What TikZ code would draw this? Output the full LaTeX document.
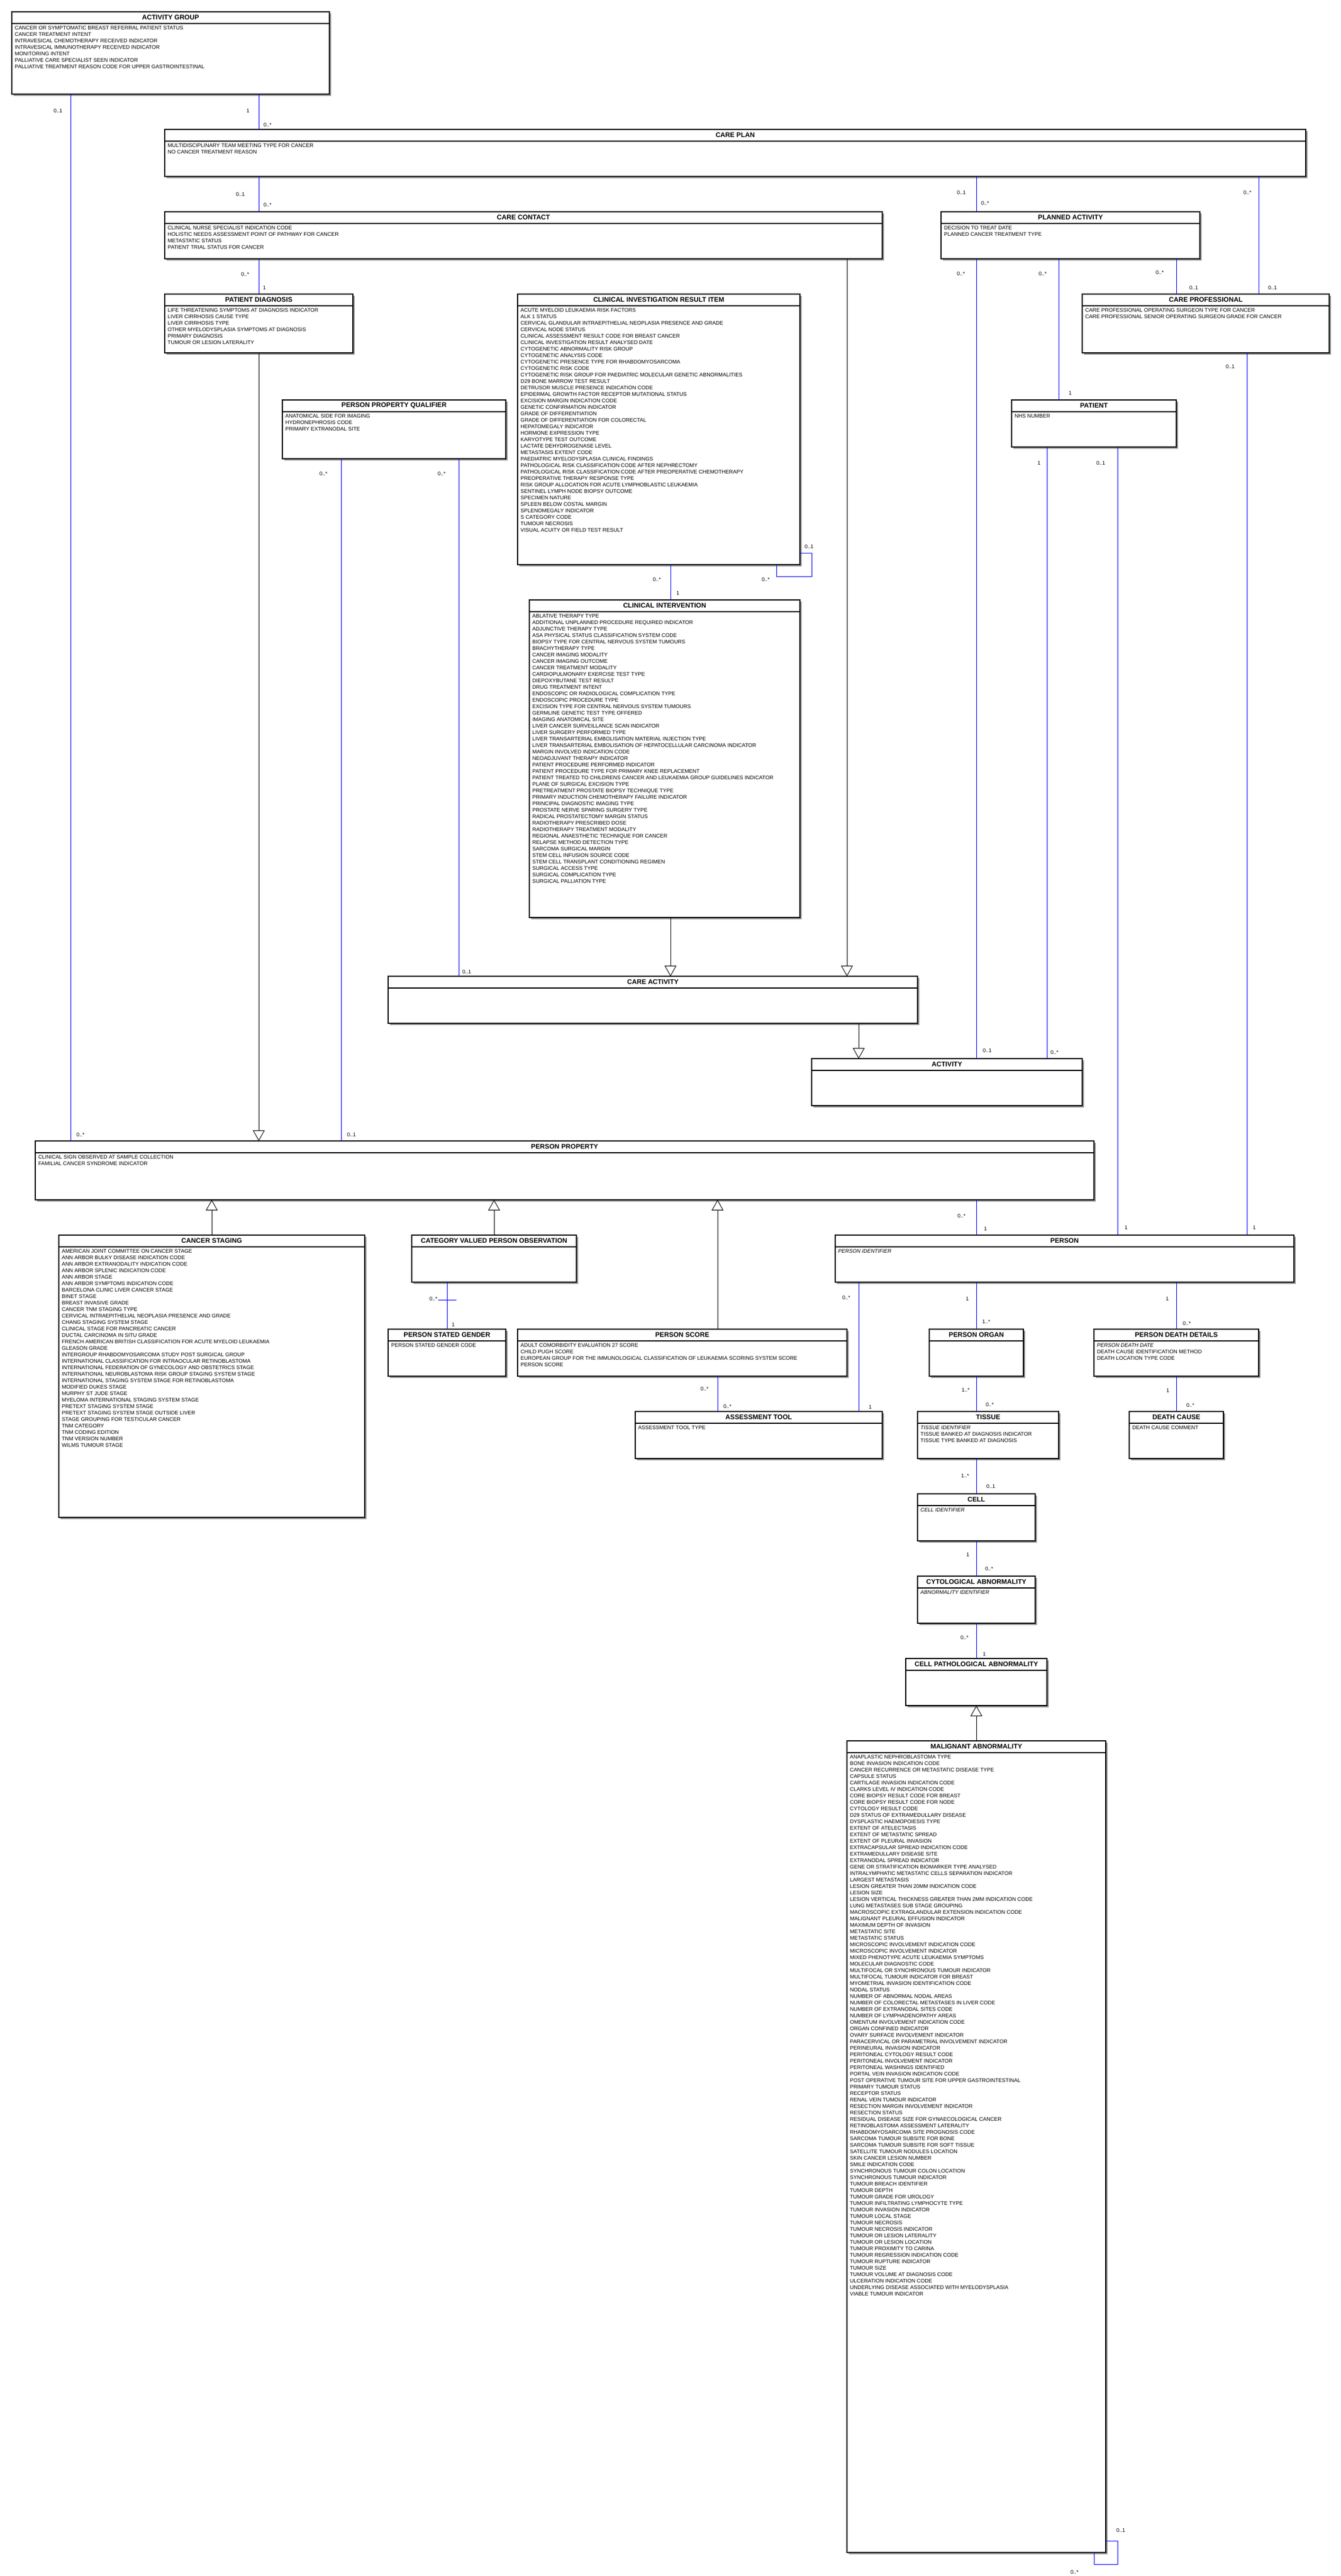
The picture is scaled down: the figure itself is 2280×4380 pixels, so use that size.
\documentclass[tikz,border=0pt]{standalone}
\usepackage{fontspec}
\setmainfont{Liberation Sans}
\usetikzlibrary{arrows.meta}
\tikzset{
  classbox/.style={draw=black, line width=1.2pt, fill=white, inner sep=0pt, outer sep=0pt},
  shadowbox/.style={fill=black!42, draw=none},
  hdrline/.style={draw=black, line width=1.2pt},
  ttl/.style={font=\bfseries\fontsize{11.4}{13}\selectfont, inner sep=0pt},
  items/.style={font=\fontsize{9}{11}\selectfont, inner sep=0pt, anchor=north west},
  lbl/.style={font=\fontsize{9}{11}\selectfont, inner sep=0pt, anchor=west},
  assoc/.style={draw=blue, line width=0.9pt},
  gen/.style={draw=black, line width=0.9pt, -{Triangle[fill=white, length=18pt, width=20pt, line width=0.9pt]}}
}
\newcommand{\umlclass}[7]{%
  \fill[shadowbox] ({#2+3},{#3+3}) rectangle ({#4+3},{#5+3});
  \node[classbox, anchor=north west, minimum width={(#4)-(#2)}, minimum height={(#5)-(#3)}] (#1) at (#2,#3) {};
  \draw[hdrline] (#2,{#3+20}) -- (#4,{#3+20});
  \node[ttl] (#1t) at ({(#2+#4)/2},{#3+10}) {#6};
  \node[items] (#1i) at ({#2+5},{#3+22.6}) {\begin{tabular}{@{}l@{}}#7\end{tabular}};
}
\newcommand{\mlab}[4]{\node[lbl] (#1) at (#2,#3) {#4};}
\newcommand{\vconn}[4][assoc]{\draw[#1] (#2,0 |- #3.south) -- (#2,0 |- #4.north);}
\newcommand{\vgenup}[3]{\draw[gen] (#1,0 |- #2.north) -- (#1,0 |- #3.south);}
\begin{document}
\begin{tikzpicture}[x=1pt,y=-1pt]
\fill[white] (0,0) rectangle (2280,4380);
\useasboundingbox (0,0) rectangle (2280,4380);

% ---------------- classes ----------------
\umlclass{ag}{20}{20}{560}{160}{ACTIVITY GROUP}{CANCER OR SYMPTOMATIC BREAST REFERRAL PATIENT STATUS\\CANCER TREATMENT INTENT\\INTRAVESICAL CHEMOTHERAPY RECEIVED INDICATOR\\INTRAVESICAL IMMUNOTHERAPY RECEIVED INDICATOR\\MONITORING INTENT\\PALLIATIVE CARE SPECIALIST SEEN INDICATOR\\PALLIATIVE TREATMENT REASON CODE FOR UPPER GASTROINTESTINAL}

\umlclass{cp}{280}{220}{2220}{300}{CARE PLAN}{MULTIDISCIPLINARY TEAM MEETING TYPE FOR CANCER\\NO CANCER TREATMENT REASON}

\umlclass{cc}{280}{360}{1500}{440}{CARE CONTACT}{CLINICAL NURSE SPECIALIST INDICATION CODE\\HOLISTIC NEEDS ASSESSMENT POINT OF PATHWAY FOR CANCER\\METASTATIC STATUS\\PATIENT TRIAL STATUS FOR CANCER}

\umlclass{pa}{1600}{360}{2040}{440}{PLANNED ACTIVITY}{DECISION TO TREAT DATE\\PLANNED CANCER TREATMENT TYPE}

\umlclass{cpr}{1840}{500}{2260}{600}{CARE PROFESSIONAL}{CARE PROFESSIONAL OPERATING SURGEON TYPE FOR CANCER\\CARE PROFESSIONAL SENIOR OPERATING SURGEON GRADE FOR CANCER}

\umlclass{pat}{1720}{680}{2000}{760}{PATIENT}{NHS NUMBER}

\umlclass{pd}{280}{500}{600}{600}{PATIENT DIAGNOSIS}{LIFE THREATENING SYMPTOMS AT DIAGNOSIS INDICATOR\\LIVER CIRRHOSIS CAUSE TYPE\\LIVER CIRRHOSIS TYPE\\OTHER MYELODYSPLASIA SYMPTOMS AT DIAGNOSIS\\PRIMARY DIAGNOSIS\\TUMOUR OR LESION LATERALITY}

\umlclass{ppq}{480}{680}{860}{780}{PERSON PROPERTY QUALIFIER}{ANATOMICAL SIDE FOR IMAGING\\HYDRONEPHROSIS CODE\\PRIMARY EXTRANODAL SITE}

\umlclass{ciri}{880}{500}{1360}{960}{CLINICAL INVESTIGATION RESULT ITEM}{ACUTE MYELOID LEUKAEMIA RISK FACTORS\\ALK 1 STATUS\\CERVICAL GLANDULAR INTRAEPITHELIAL NEOPLASIA PRESENCE AND GRADE\\CERVICAL NODE STATUS\\CLINICAL ASSESSMENT RESULT CODE FOR BREAST CANCER\\CLINICAL INVESTIGATION RESULT ANALYSED DATE\\CYTOGENETIC ABNORMALITY RISK GROUP\\CYTOGENETIC ANALYSIS CODE\\CYTOGENETIC PRESENCE TYPE FOR RHABDOMYOSARCOMA\\CYTOGENETIC RISK CODE\\CYTOGENETIC RISK GROUP FOR PAEDIATRIC MOLECULAR GENETIC ABNORMALITIES\\D29 BONE MARROW TEST RESULT\\DETRUSOR MUSCLE PRESENCE INDICATION CODE\\EPIDERMAL GROWTH FACTOR RECEPTOR MUTATIONAL STATUS\\EXCISION MARGIN INDICATION CODE\\GENETIC CONFIRMATION INDICATOR\\GRADE OF DIFFERENTIATION\\GRADE OF DIFFERENTIATION FOR COLORECTAL\\HEPATOMEGALY INDICATOR\\HORMONE EXPRESSION TYPE\\KARYOTYPE TEST OUTCOME\\LACTATE DEHYDROGENASE LEVEL\\METASTASIS EXTENT CODE\\PAEDIATRIC MYELODYSPLASIA CLINICAL FINDINGS\\PATHOLOGICAL RISK CLASSIFICATION CODE AFTER NEPHRECTOMY\\PATHOLOGICAL RISK CLASSIFICATION CODE AFTER PREOPERATIVE CHEMOTHERAPY\\PREOPERATIVE THERAPY RESPONSE TYPE\\RISK GROUP ALLOCATION FOR ACUTE LYMPHOBLASTIC LEUKAEMIA\\SENTINEL LYMPH NODE BIOPSY OUTCOME\\SPECIMEN NATURE\\SPLEEN BELOW COSTAL MARGIN\\SPLENOMEGALY INDICATOR\\S CATEGORY CODE\\TUMOUR NECROSIS\\VISUAL ACUITY OR FIELD TEST RESULT}

\umlclass{ci}{900}{1020}{1360}{1560}{CLINICAL INTERVENTION}{ABLATIVE THERAPY TYPE\\ADDITIONAL UNPLANNED PROCEDURE REQUIRED INDICATOR\\ADJUNCTIVE THERAPY TYPE\\ASA PHYSICAL STATUS CLASSIFICATION SYSTEM CODE\\BIOPSY TYPE FOR CENTRAL NERVOUS SYSTEM TUMOURS\\BRACHYTHERAPY TYPE\\CANCER IMAGING MODALITY\\CANCER IMAGING OUTCOME\\CANCER TREATMENT MODALITY\\CARDIOPULMONARY EXERCISE TEST TYPE\\DIEPOXYBUTANE TEST RESULT\\DRUG TREATMENT INTENT\\ENDOSCOPIC OR RADIOLOGICAL COMPLICATION TYPE\\ENDOSCOPIC PROCEDURE TYPE\\EXCISION TYPE FOR CENTRAL NERVOUS SYSTEM TUMOURS\\GERMLINE GENETIC TEST TYPE OFFERED\\IMAGING ANATOMICAL SITE\\LIVER CANCER SURVEILLANCE SCAN INDICATOR\\LIVER SURGERY PERFORMED TYPE\\LIVER TRANSARTERIAL EMBOLISATION MATERIAL INJECTION TYPE\\LIVER TRANSARTERIAL EMBOLISATION OF HEPATOCELLULAR CARCINOMA INDICATOR\\MARGIN INVOLVED INDICATION CODE\\NEOADJUVANT THERAPY INDICATOR\\PATIENT PROCEDURE PERFORMED INDICATOR\\PATIENT PROCEDURE TYPE FOR PRIMARY KNEE REPLACEMENT\\PATIENT TREATED TO CHILDRENS CANCER AND LEUKAEMIA GROUP GUIDELINES INDICATOR\\PLANE OF SURGICAL EXCISION TYPE\\PRETREATMENT PROSTATE BIOPSY TECHNIQUE TYPE\\PRIMARY INDUCTION CHEMOTHERAPY FAILURE INDICATOR\\PRINCIPAL DIAGNOSTIC IMAGING TYPE\\PROSTATE NERVE SPARING SURGERY TYPE\\RADICAL PROSTATECTOMY MARGIN STATUS\\RADIOTHERAPY PRESCRIBED DOSE\\RADIOTHERAPY TREATMENT MODALITY\\REGIONAL ANAESTHETIC TECHNIQUE FOR CANCER\\RELAPSE METHOD DETECTION TYPE\\SARCOMA SURGICAL MARGIN\\STEM CELL INFUSION SOURCE CODE\\STEM CELL TRANSPLANT CONDITIONING REGIMEN\\SURGICAL ACCESS TYPE\\SURGICAL COMPLICATION TYPE\\SURGICAL PALLIATION TYPE}

\umlclass{ca}{660}{1660}{1560}{1740}{CARE ACTIVITY}{}

\umlclass{act}{1380}{1800}{1840}{1880}{ACTIVITY}{}

\umlclass{pp}{60}{1940}{1860}{2040}{PERSON PROPERTY}{CLINICAL SIGN OBSERVED AT SAMPLE COLLECTION\\FAMILIAL CANCER SYNDROME INDICATOR}

\umlclass{cs}{100}{2100}{620}{2580}{CANCER STAGING}{AMERICAN JOINT COMMITTEE ON CANCER STAGE\\ANN ARBOR BULKY DISEASE INDICATION CODE\\ANN ARBOR EXTRANODALITY INDICATION CODE\\ANN ARBOR SPLENIC INDICATION CODE\\ANN ARBOR STAGE\\ANN ARBOR SYMPTOMS INDICATION CODE\\BARCELONA CLINIC LIVER CANCER STAGE\\BINET STAGE\\BREAST INVASIVE GRADE\\CANCER TNM STAGING TYPE\\CERVICAL INTRAEPITHELIAL NEOPLASIA PRESENCE AND GRADE\\CHANG STAGING SYSTEM STAGE\\CLINICAL STAGE FOR PANCREATIC CANCER\\DUCTAL CARCINOMA IN SITU GRADE\\FRENCH AMERICAN BRITISH CLASSIFICATION FOR ACUTE MYELOID LEUKAEMIA\\GLEASON GRADE\\INTERGROUP RHABDOMYOSARCOMA STUDY POST SURGICAL GROUP\\INTERNATIONAL CLASSIFICATION FOR INTRAOCULAR RETINOBLASTOMA\\INTERNATIONAL FEDERATION OF GYNECOLOGY AND OBSTETRICS STAGE\\INTERNATIONAL NEUROBLASTOMA RISK GROUP STAGING SYSTEM STAGE\\INTERNATIONAL STAGING SYSTEM STAGE FOR RETINOBLASTOMA\\MODIFIED DUKES STAGE\\MURPHY ST JUDE STAGE\\MYELOMA INTERNATIONAL STAGING SYSTEM STAGE\\PRETEXT STAGING SYSTEM STAGE\\PRETEXT STAGING SYSTEM STAGE OUTSIDE LIVER\\STAGE GROUPING FOR TESTICULAR CANCER\\TNM CATEGORY\\TNM CODING EDITION\\TNM VERSION NUMBER\\WILMS TUMOUR STAGE}

\umlclass{cvpo}{700}{2100}{980}{2180}{CATEGORY VALUED PERSON OBSERVATION}{}

\umlclass{psg}{660}{2260}{860}{2340}{PERSON STATED GENDER}{PERSON STATED GENDER CODE}

\umlclass{ps}{880}{2260}{1440}{2340}{PERSON SCORE}{ADULT COMORBIDITY EVALUATION 27 SCORE\\CHILD PUGH SCORE\\EUROPEAN GROUP FOR THE IMMUNOLOGICAL CLASSIFICATION OF LEUKAEMIA SCORING SYSTEM SCORE\\PERSON SCORE}

\umlclass{at}{1080}{2400}{1500}{2480}{ASSESSMENT TOOL}{ASSESSMENT TOOL TYPE}

\umlclass{per}{1420}{2100}{2200}{2180}{PERSON}{\textit{PERSON IDENTIFIER}}

\umlclass{po}{1580}{2260}{1740}{2340}{PERSON ORGAN}{}

\umlclass{pdd}{1860}{2260}{2140}{2340}{PERSON DEATH DETAILS}{\textit{PERSON DEATH DATE}\\DEATH CAUSE IDENTIFICATION METHOD\\DEATH LOCATION TYPE CODE}

\umlclass{tis}{1560}{2400}{1800}{2480}{TISSUE}{\textit{TISSUE IDENTIFIER}\\TISSUE BANKED AT DIAGNOSIS INDICATOR\\TISSUE TYPE BANKED AT DIAGNOSIS}

\umlclass{dc}{1920}{2400}{2080}{2480}{DEATH CAUSE}{DEATH CAUSE COMMENT}

\umlclass{cell}{1560}{2540}{1760}{2620}{CELL}{\textit{CELL IDENTIFIER}}

\umlclass{cyto}{1560}{2680}{1760}{2760}{CYTOLOGICAL ABNORMALITY}{\textit{ABNORMALITY IDENTIFIER}}

\umlclass{cpa}{1540}{2820}{1780}{2900}{CELL PATHOLOGICAL ABNORMALITY}{}

\umlclass{mal}{1440}{2960}{1880}{4340}{MALIGNANT ABNORMALITY}{ANAPLASTIC NEPHROBLASTOMA TYPE\\BONE INVASION INDICATION CODE\\CANCER RECURRENCE OR METASTATIC DISEASE TYPE\\CAPSULE STATUS\\CARTILAGE INVASION INDICATION CODE\\CLARKS LEVEL IV INDICATION CODE\\CORE BIOPSY RESULT CODE FOR BREAST\\CORE BIOPSY RESULT CODE FOR NODE\\CYTOLOGY RESULT CODE\\D29 STATUS OF EXTRAMEDULLARY DISEASE\\DYSPLASTIC HAEMOPOIESIS TYPE\\EXTENT OF ATELECTASIS\\EXTENT OF METASTATIC SPREAD\\EXTENT OF PLEURAL INVASION\\EXTRACAPSULAR SPREAD INDICATION CODE\\EXTRAMEDULLARY DISEASE SITE\\EXTRANODAL SPREAD INDICATOR\\GENE OR STRATIFICATION BIOMARKER TYPE ANALYSED\\INTRALYMPHATIC METASTATIC CELLS SEPARATION INDICATOR\\LARGEST METASTASIS\\LESION GREATER THAN 20MM INDICATION CODE\\LESION SIZE\\LESION VERTICAL THICKNESS GREATER THAN 2MM INDICATION CODE\\LUNG METASTASES SUB STAGE GROUPING\\MACROSCOPIC EXTRAGLANDULAR EXTENSION INDICATION CODE\\MALIGNANT PLEURAL EFFUSION INDICATOR\\MAXIMUM DEPTH OF INVASION\\METASTATIC SITE\\METASTATIC STATUS\\MICROSCOPIC INVOLVEMENT INDICATION CODE\\MICROSCOPIC INVOLVEMENT INDICATOR\\MIXED PHENOTYPE ACUTE LEUKAEMIA SYMPTOMS\\MOLECULAR DIAGNOSTIC CODE\\MULTIFOCAL OR SYNCHRONOUS TUMOUR INDICATOR\\MULTIFOCAL TUMOUR INDICATOR FOR BREAST\\MYOMETRIAL INVASION IDENTIFICATION CODE\\NODAL STATUS\\NUMBER OF ABNORMAL NODAL AREAS\\NUMBER OF COLORECTAL METASTASES IN LIVER CODE\\NUMBER OF EXTRANODAL SITES CODE\\NUMBER OF LYMPHADENOPATHY AREAS\\OMENTUM INVOLVEMENT INDICATION CODE\\ORGAN CONFINED INDICATOR\\OVARY SURFACE INVOLVEMENT INDICATOR\\PARACERVICAL OR PARAMETRIAL INVOLVEMENT INDICATOR\\PERINEURAL INVASION INDICATOR\\PERITONEAL CYTOLOGY RESULT CODE\\PERITONEAL INVOLVEMENT INDICATOR\\PERITONEAL WASHINGS IDENTIFIED\\PORTAL VEIN INVASION INDICATION CODE\\POST OPERATIVE TUMOUR SITE FOR UPPER GASTROINTESTINAL\\PRIMARY TUMOUR STATUS\\RECEPTOR STATUS\\RENAL VEIN TUMOUR INDICATOR\\RESECTION MARGIN INVOLVEMENT INDICATOR\\RESECTION STATUS\\RESIDUAL DISEASE SIZE FOR GYNAECOLOGICAL CANCER\\RETINOBLASTOMA ASSESSMENT LATERALITY\\RHABDOMYOSARCOMA SITE PROGNOSIS CODE\\SARCOMA TUMOUR SUBSITE FOR BONE\\SARCOMA TUMOUR SUBSITE FOR SOFT TISSUE\\SATELLITE TUMOUR NODULES LOCATION\\SKIN CANCER LESION NUMBER\\SMILE INDICATION CODE\\SYNCHRONOUS TUMOUR COLON LOCATION\\SYNCHRONOUS TUMOUR INDICATOR\\TUMOUR BREACH IDENTIFIER\\TUMOUR DEPTH\\TUMOUR GRADE FOR UROLOGY\\TUMOUR INFILTRATING LYMPHOCYTE TYPE\\TUMOUR INVASION INDICATOR\\TUMOUR LOCAL STAGE\\TUMOUR NECROSIS\\TUMOUR NECROSIS INDICATOR\\TUMOUR OR LESION LATERALITY\\TUMOUR OR LESION LOCATION\\TUMOUR PROXIMITY TO CARINA\\TUMOUR REGRESSION INDICATION CODE\\TUMOUR RUPTURE INDICATOR\\TUMOUR SIZE\\TUMOUR VOLUME AT DIAGNOSIS CODE\\ULCERATION INDICATION CODE\\UNDERLYING DISEASE ASSOCIATED WITH MYELODYSPLASIA\\VIABLE TUMOUR INDICATOR}

% ---------------- associations ----------------
\vconn{120}{ag}{pp}
\vconn{440}{ag}{cp}
\vconn{440}{cp}{cc}
\vconn{440}{cc}{pd}
\vconn{580}{ppq}{pp}
\vconn{780}{ppq}{ca}
\vconn{1140}{ciri}{ci}
\vconn{1660}{cp}{pa}
\vconn{2140}{cp}{cpr}
\vconn{1660}{pa}{act}
\vconn{1800}{pa}{pat}
\vconn{2000}{pa}{cpr}
\vconn{1780}{pat}{act}
\vconn{1900}{pat}{per}
\vconn{2120}{cpr}{per}
\vconn{1660}{pp}{per}
\vconn{760}{cvpo}{psg}
\vconn{1220}{ps}{at}
\vconn{1460}{per}{at}
\vconn{1660}{per}{po}
\vconn{2000}{per}{pdd}
\vconn{1660}{po}{tis}
\vconn{2000}{pdd}{dc}
\vconn{1660}{tis}{cell}
\vconn{1660}{cell}{cyto}
\vconn{1660}{cyto}{cpa}
\draw[assoc] (745,2210) -- (776,2210);
% self associations
\draw[assoc] (ciri.east |- 0,940) -- (1380,940) -- (1380,980) -- (1320,980) -- (1320,0 |- ciri.south);
\draw[assoc] (mal.east |- 0,4320) -- (1900,4320) -- (1900,4360) -- (1860,4360) -- (1860,0 |- mal.south);

% ---------------- generalizations ----------------
\draw[gen] (440,0 |- pd.south) -- (440,0 |- pp.north);
\draw[gen] (1140,0 |- ci.south) -- (1140,0 |- ca.north);
\draw[gen] (1440,0 |- cc.south) -- (1440,0 |- ca.north);
\draw[gen] (1460,0 |- ca.south) -- (1460,0 |- act.north);
\vgenup{360}{cs}{pp}
\vgenup{840}{cvpo}{pp}
\vgenup{1220}{ps}{pp}
\vgenup{1660}{mal}{cpa}

% ---------------- multiplicities ----------------
\mlab{m1}{91}{188}{0..1}
\mlab{m2}{130}{1929}{0..*}
\mlab{m3}{419}{188}{1}
\mlab{m4}{448}{212}{0..*}
\mlab{m5}{401}{330}{0..1}
\mlab{m6}{448}{348}{0..*}
\mlab{m7}{410}{466}{0..*}
\mlab{m8}{447}{489}{1}
\mlab{m9}{543}{805}{0..*}
\mlab{m10}{590}{1929}{0..1}
\mlab{m11}{744}{805}{0..*}
\mlab{m12}{786}{1652}{0..1}
\mlab{m13}{1110}{985}{0..*}
\mlab{m14}{1150}{1008}{1}
\mlab{m15}{1368}{929}{0..1}
\mlab{m16}{1295}{985}{0..*}
\mlab{m17}{1627}{327}{0..1}
\mlab{m18}{1668}{345}{0..*}
\mlab{m19}{2114}{327}{0..*}
\mlab{m20}{2156}{489}{0..1}
\mlab{m21}{1627}{465}{0..*}
\mlab{m22}{1671}{1786}{0..1}
\mlab{m23}{1766}{465}{0..*}
\mlab{m24}{1817}{668}{1}
\mlab{m25}{1965}{463}{0..*}
\mlab{m26}{2022}{489}{0..1}
\mlab{m27}{1764}{787}{1}
\mlab{m28}{1786}{1789}{0..*}
\mlab{m29}{1864}{787}{0..1}
\mlab{m30}{1912}{2087}{1}
\mlab{m31}{2084}{623}{0..1}
\mlab{m32}{2130}{2087}{1}
\mlab{m33}{1628}{2067}{0..*}
\mlab{m34}{1673}{2089}{1}
\mlab{m35}{730}{2208}{0..*}
\mlab{m36}{768}{2252}{1}
\mlab{m37}{1191}{2361}{0..*}
\mlab{m38}{1230}{2391}{0..*}
\mlab{m39}{1432}{2206}{0..*}
\mlab{m40}{1477}{2392}{1}
\mlab{m41}{1642}{2208}{1}
\mlab{m42}{1670}{2247}{1..*}
\mlab{m43}{1982}{2208}{1}
\mlab{m44}{2011}{2250}{0..*}
\mlab{m45}{1635}{2363}{1..*}
\mlab{m46}{1676}{2388}{0..*}
\mlab{m47}{1983}{2364}{1}
\mlab{m48}{2017}{2389}{0..*}
\mlab{m49}{1634}{2509}{1..*}
\mlab{m50}{1677}{2527}{0..1}
\mlab{m51}{1643}{2643}{1}
\mlab{m52}{1675}{2667}{0..*}
\mlab{m53}{1633}{2784}{0..*}
\mlab{m54}{1671}{2812}{1}
\mlab{m55}{1898}{4302}{0..1}
\mlab{m56}{1820}{4373}{0..*}
\end{tikzpicture}
\end{document}
